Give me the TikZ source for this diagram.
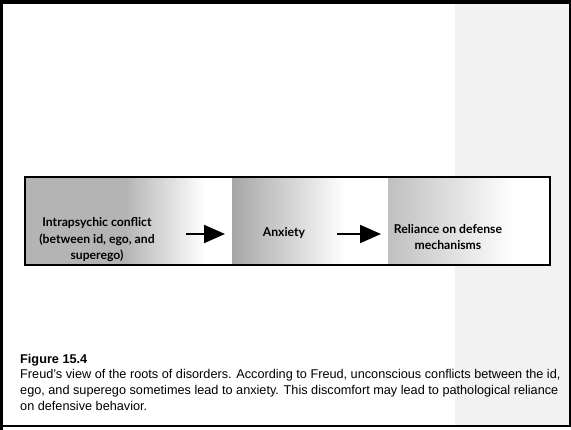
\documentclass[tikz,border=0pt]{standalone}
\usepackage{fontspec}
\setmainfont{Liberation Sans}
\newfontfamily\boxfont{Lato}
\usetikzlibrary{arrows.meta}
\definecolor{shadeA}{HTML}{B4B4B4}
\definecolor{shadeB}{HTML}{A6A6A6}
\definecolor{shadeC}{HTML}{C0C0C0}
\definecolor{paper}{HTML}{F2F2F2}
\tikzset{
  boxtext/.style={font={\boxfont\bfseries\fontsize{12.2}{16.5}\selectfont}, align=center, inner sep=0pt},
  captext/.style={font={\fontsize{12.7}{16}\selectfont}, anchor=base west, inner sep=0pt},
  flow/.style={line width=2.2pt, -{Triangle[length=21pt,width=18pt]}},
  frameline/.style={line width=1.5pt}
}
\begin{document}
\begin{tikzpicture}[x=1pt,y=-1pt]
  \useasboundingbox (0,0) rectangle (571,430);
  % page background and tinted right margin
  \fill[white] (0,0) rectangle (571,430);
  \fill[paper] (455,4) rectangle (569,426);
  % outer frame
  \draw[line width=4.5pt] (0,2) -- (571,2);
  \draw[line width=3.5pt] (1.5,0) -- (1.5,430);
  \draw[line width=2pt] (569.5,0) -- (569.5,427);
  \draw[line width=2pt] (0,426) -- (571,426);

  % shaded panels of the bar
  \fill[shadeA] (25,177) rectangle (125,265);
  \shade[left color=shadeA, right color=white] (124.5,177) rectangle (205,265);
  \shade[left color=shadeB, right color=white] (232,177) rectangle (345,265);
  \shade[left color=shadeC, right color=white] (388,177) rectangle (515,265);
  \fill[white] (515,177) rectangle (550,265);
  \draw[frameline] (25,177) rectangle (550,265);

  % stage labels
  \node[boxtext] (conflict) at (97,240) {Intrapsychic conflict\\(between id, ego, and\\superego)};
  \node[boxtext] (anxiety) at (284,233) {Anxiety};
  \node[boxtext] (reliance) at (448,237) {Reliance on defense\\mechanisms};

  % arrows between stages
  \coordinate (a1s) at (186,234);
  \coordinate (a1e) at (225,234);
  \coordinate (a2s) at (337,234);
  \coordinate (a2e) at (381,234);
  \draw[flow] (a1s) -- (a1e);
  \draw[flow] (a2s) -- (a2e);

  % caption
  \node[captext, font={\bfseries\fontsize{12.7}{16}\selectfont}] (figno) at (20,364) {Figure 15.4};
  \node[captext] (cap1) at (20,379) {Freud's view of the roots of disorders. According to Freud, unconscious conflicts between the id,};
  \node[captext] (cap2) at (20,395) {ego, and superego sometimes lead to anxiety. This discomfort may lead to pathological reliance};
  \node[captext] (cap3) at (20,411) {on defensive behavior.};
\end{tikzpicture}
\end{document}
